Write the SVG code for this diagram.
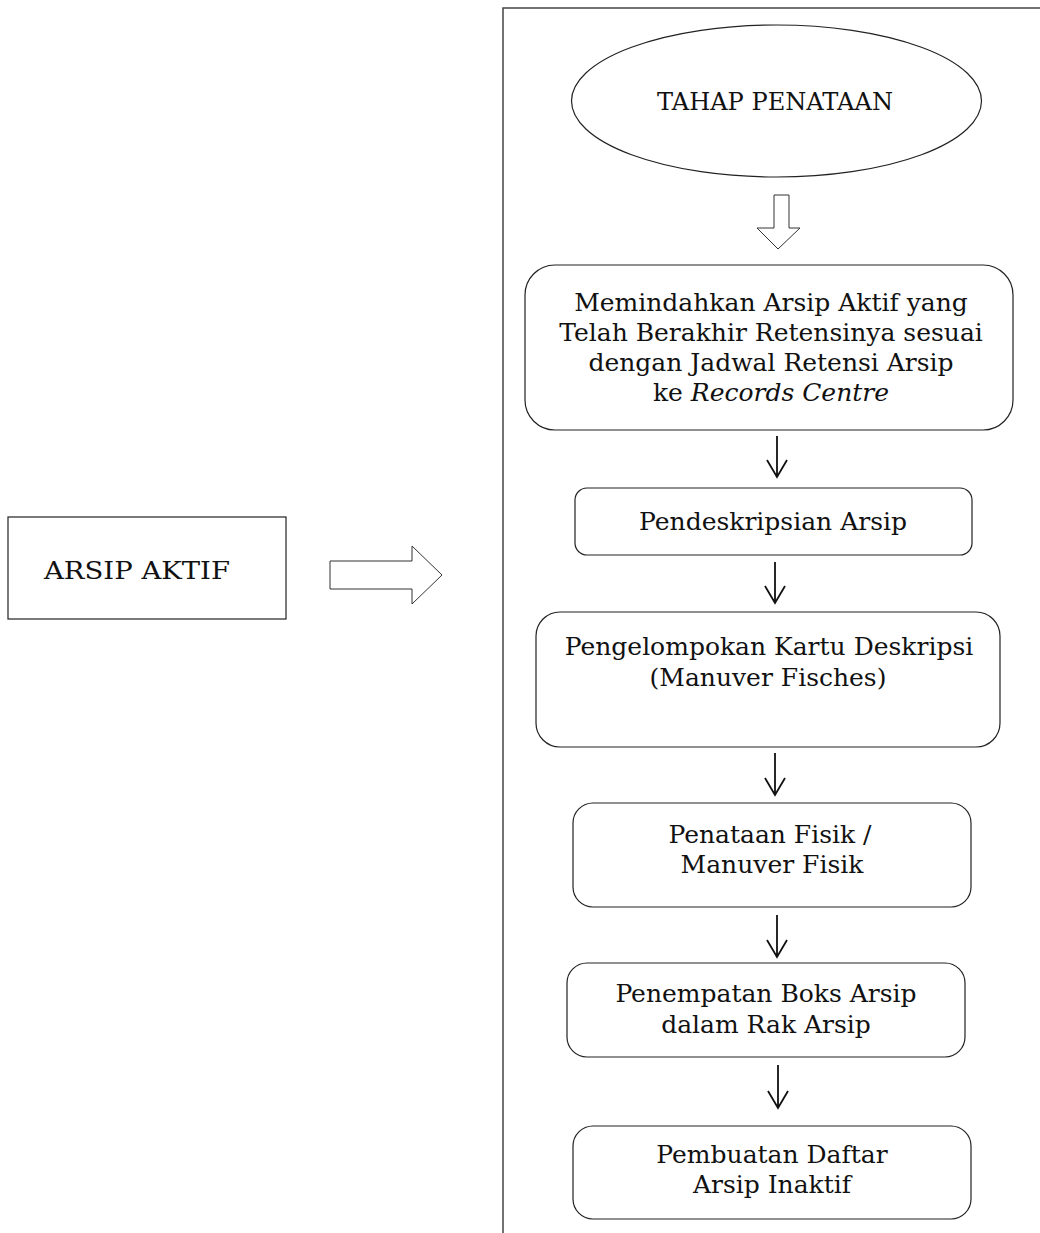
<svg xmlns="http://www.w3.org/2000/svg" width="1040" height="1233" viewBox="0 0 1040 1233">
<style>
.t{font-family:"DejaVu Serif","Liberation Serif",serif;font-size:25px;fill:#111;text-anchor:middle}
.box{fill:#fff;stroke:#222;stroke-width:1.2}
.frame{fill:none;stroke:#444;stroke-width:1.5}
.conn{fill:none;stroke:#111;stroke-width:1.8}
.hollow{fill:#fff;stroke:#333;stroke-width:1}
</style>
<rect width="1040" height="1233" fill="#fff"/>
<g id="frame"><path class="frame" d="M503,1233 V8 H1040"/></g>
<g id="arsip-aktif">
<rect class="box" x="8" y="517" width="278" height="102"/>
<text class="t" x="137" y="579" textLength="186" lengthAdjust="spacingAndGlyphs">ARSIP AKTIF</text>
</g>
<g id="tahap-penataan">
<ellipse class="box" cx="776.5" cy="101" rx="205" ry="76"/>
<text class="t" x="775" y="110" textLength="236" lengthAdjust="spacingAndGlyphs">TAHAP PENATAAN</text>
</g>
<g id="memindahkan">
<rect class="box" x="525" y="265" width="488" height="165" rx="30"/>
<text class="t" x="771" y="311">Memindahkan Arsip Aktif yang</text>
<text class="t" x="771" y="341">Telah Berakhir Retensinya sesuai</text>
<text class="t" x="771" y="371">dengan Jadwal Retensi Arsip</text>
<text class="t" x="771" y="401">ke <tspan font-style="italic">Records Centre</tspan></text>
</g>
<g id="pendeskripsian">
<rect class="box" x="575" y="488" width="397" height="67" rx="12"/>
<text class="t" x="773" y="530">Pendeskripsian Arsip</text>
</g>
<g id="pengelompokan">
<rect class="box" x="536" y="612" width="464" height="135" rx="24"/>
<text class="t" x="769" y="655">Pengelompokan Kartu Deskripsi</text>
<text class="t" x="768" y="686">(Manuver Fisches)</text>
</g>
<g id="penataan-fisik">
<rect class="box" x="573" y="803" width="398" height="104" rx="20"/>
<text class="t" x="770" y="843">Penataan Fisik /</text>
<text class="t" x="772" y="873">Manuver Fisik</text>
</g>
<g id="penempatan">
<rect class="box" x="567" y="963" width="398" height="94" rx="20"/>
<text class="t" x="766" y="1002">Penempatan Boks Arsip</text>
<text class="t" x="766" y="1033">dalam Rak Arsip</text>
</g>
<g id="pembuatan">
<rect class="box" x="573" y="1126" width="398" height="93" rx="20"/>
<text class="t" x="772" y="1163">Pembuatan Daftar</text>
<text class="t" x="772" y="1193">Arsip Inaktif</text>
</g>
<g id="connectors">
<path class="hollow" d="M330,561 H412 V546 L442,575 L412,604 V589 H330 Z"/>
<path class="hollow" d="M774,195 H789 V228 H800 L778,249 L757,228 H774 Z"/>
<path class="conn" d="M777,436 V477 M767,460 L777,477 L787,460"/>
<path class="conn" d="M775,562 V603 M765,586 L775,603 L785,586"/>
<path class="conn" d="M775,753 V795 M765,778 L775,795 L785,778"/>
<path class="conn" d="M777,915 V957 M767,940 L777,957 L787,940"/>
<path class="conn" d="M778,1065 V1108 M768,1091 L778,1108 L788,1091"/>
</g>
</svg>
